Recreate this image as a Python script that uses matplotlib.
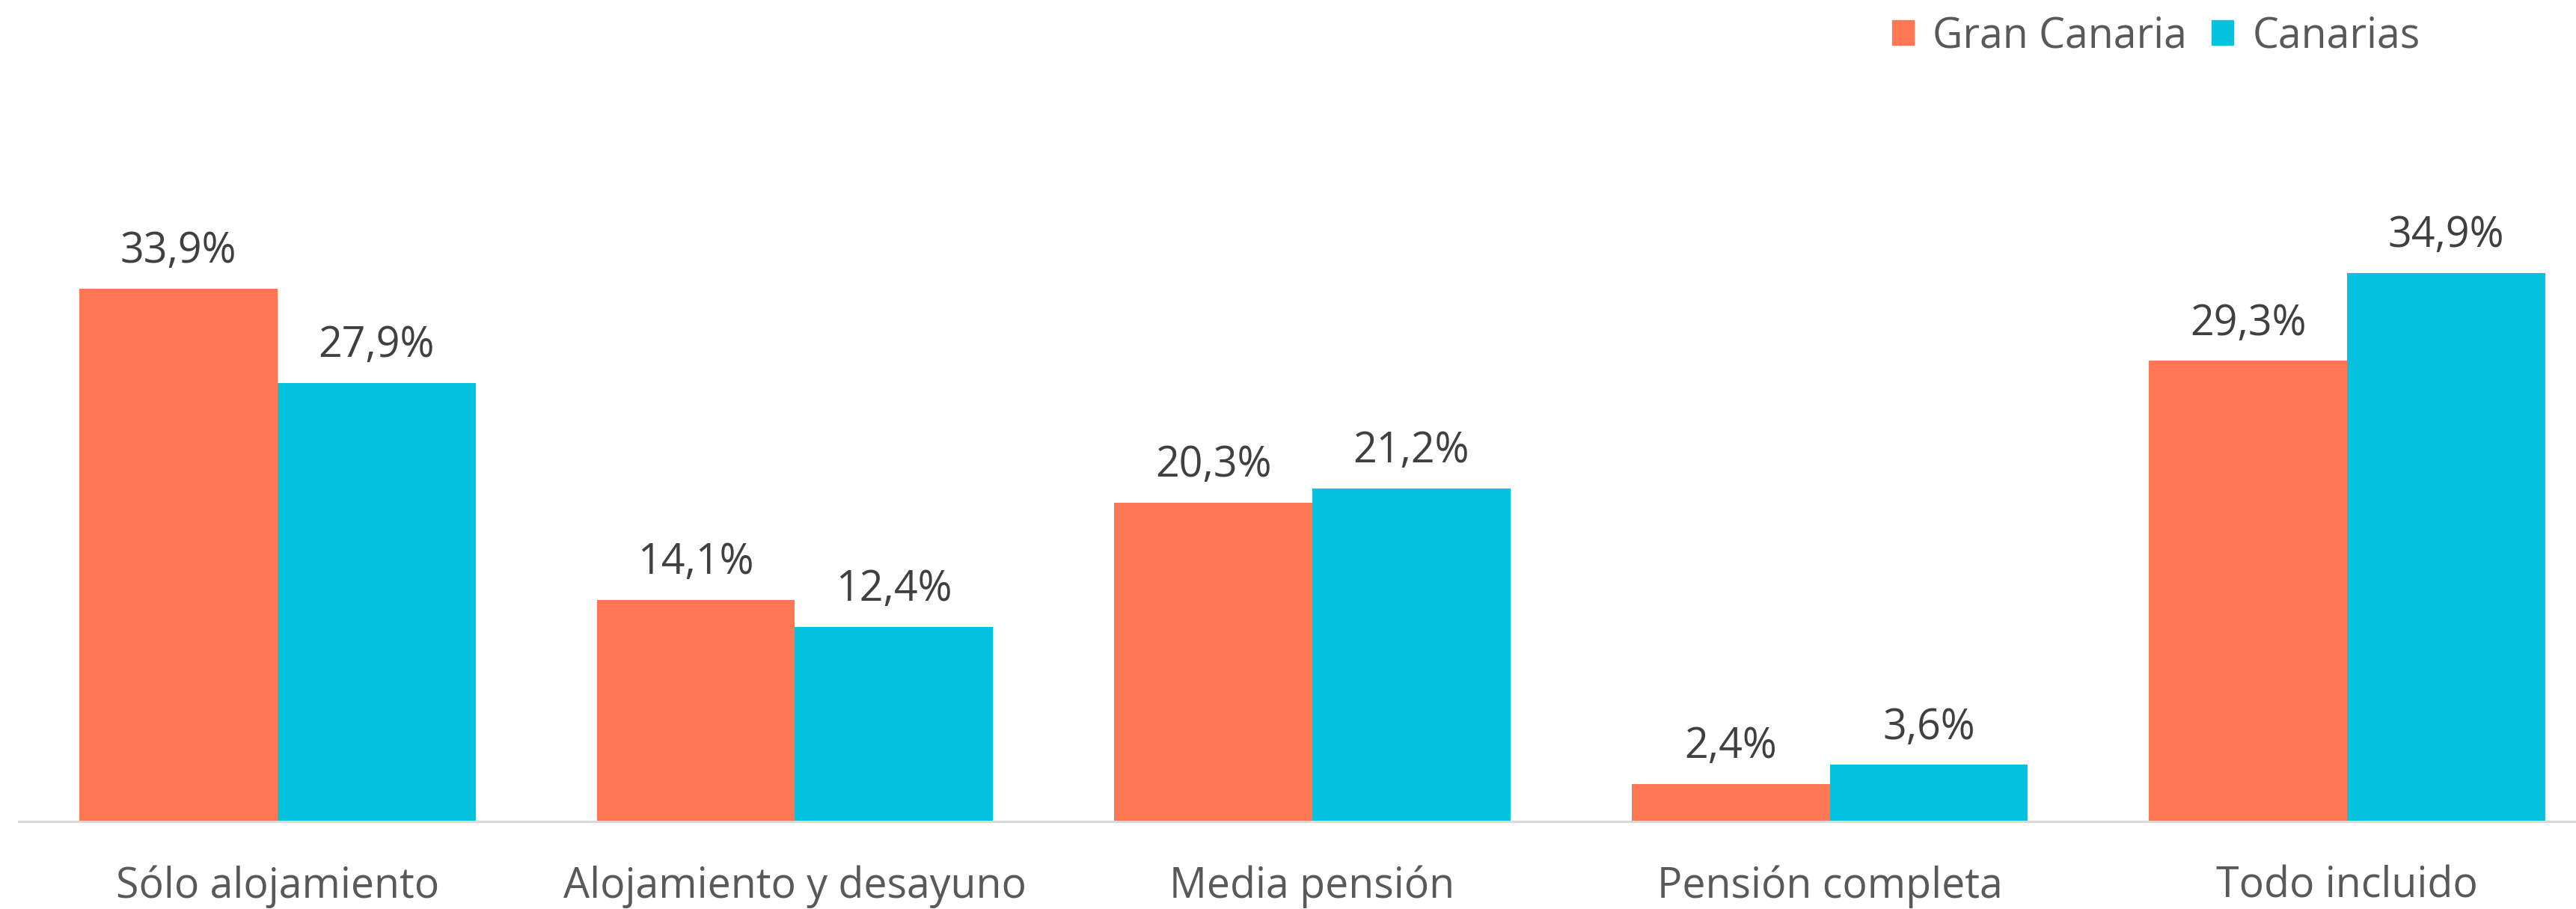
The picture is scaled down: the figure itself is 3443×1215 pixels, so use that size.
import matplotlib
matplotlib.use("Agg")
import matplotlib.pyplot as plt
from matplotlib.patches import Patch
import numpy as np

# Data
categories = ["Sólo alojamiento", "Alojamiento y desayuno", "Media pensión",
              "Pensión completa", "Todo incluido"]
gran_canaria = [33.9, 14.1, 20.3, 2.4, 29.3]
canarias = [27.9, 12.4, 21.2, 3.6, 34.9]
series_names = ["Gran Canaria", "Canarias"]

orange = "#FF7853"
cyan = "#05C3DE"

plt.rcParams["font.family"] = ["Open Sans", "DejaVu Sans"]

fig = plt.figure(figsize=(34.43, 12.15), dpi=100)
# axes runs a little past the right edge, as in the original (cropped)
ax = fig.add_axes([25 / 3443, 117 / 1215, 3458 / 3443, 834 / 1215])

x = np.arange(len(categories))
w = 0.383
b1 = ax.bar(x - w / 2, gran_canaria, w, color=orange, label=series_names[0])
b2 = ax.bar(x + w / 2, canarias, w, color=cyan, label=series_names[1])

for bars, vals in ((b1, gran_canaria), (b2, canarias)):
    for rect, v in zip(bars, vals):
        ax.annotate(f"{v:.1f}%".replace(".", ","),
                    (rect.get_x() + rect.get_width() / 2, rect.get_height()),
                    xytext=(0, 25), textcoords="offset points",
                    ha="center", va="baseline", fontsize=40, color="#404040")

ax.set_xlim(-0.5, len(categories) - 0.5)
ax.set_ylim(0, 39.7)
ax.set_xticks(x)
ax.set_xticklabels(categories, fontsize=40, color="#595959")
ax.tick_params(axis="x", length=0, pad=42)
ax.set_yticks([])
for s in ("top", "right", "left"):
    ax.spines[s].set_visible(False)
ax.spines["bottom"].set_color("#D9D9D9")
ax.spines["bottom"].set_linewidth(2.2)

handles = [Patch(color=orange), Patch(color=cyan)]
fig.legend(handles, series_names, loc="center", bbox_to_anchor=(0.837, 0.96),
           ncol=2, frameon=False, fontsize=40, labelcolor="#595959",
           handlelength=0.52, handleheight=0.55, handletextpad=0.45,
           columnspacing=0.6, borderpad=0)

fig.savefig("out.png", dpi=100)
